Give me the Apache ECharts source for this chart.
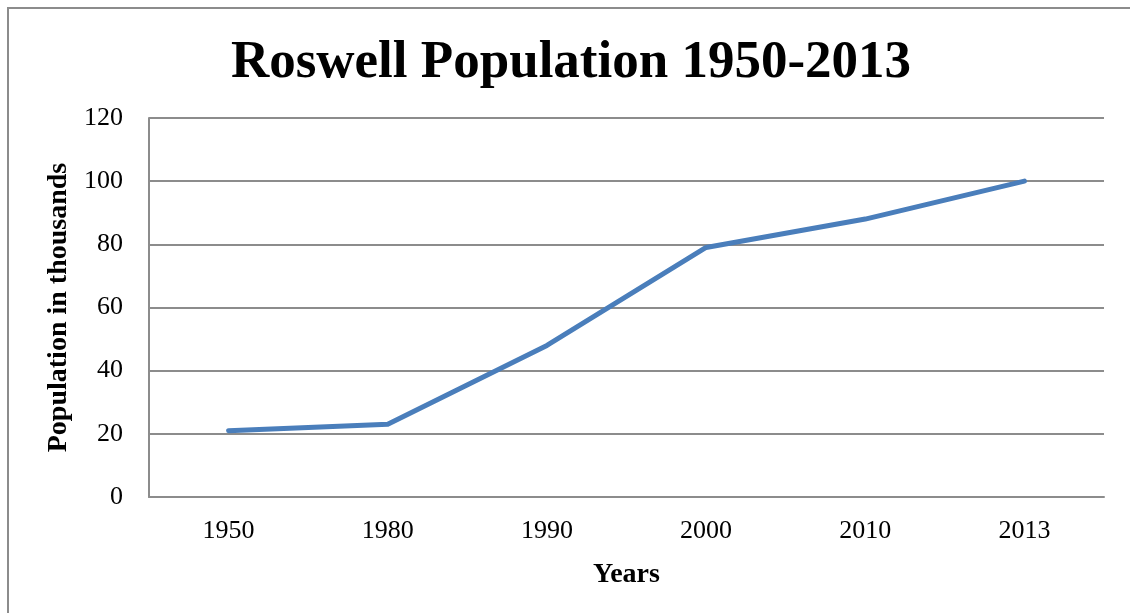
<!DOCTYPE html>
<html>
<head>
<meta charset="utf-8">
<script src="https://cdn.jsdelivr.net/npm/echarts@6/dist/echarts.min.js"></script>
<style>
  html, body { margin: 0; padding: 0; background: #fff; }
  #chart { width: 1130px; height: 613px; }
</style>
</head>
<body>
<div id="chart"></div>
<script>
const years = ["1950", "1980", "1990", "2000", "2010", "2013"];
const population = [21, 23, 48, 79, 88, 100];
const yTicks = [0, 20, 40, 60, 80, 100, 120];

const serif = '"Liberation Serif", "DejaVu Serif", serif';
const chart = echarts.init(document.getElementById("chart"));

chart.setOption({
  animation: false,
  backgroundColor: "#fff",
  // outer chart frame
  graphic: [{
    type: "rect",
    shape: { x: 8, y: 8, width: 1140, height: 620 },
    style: { fill: "none", stroke: "#8c8c8c", lineWidth: 2 },
  }],
  title: {
    text: "Roswell Population 1950-2013",
    left: 566,
    textAlign: "center",
    top: 32,
    textStyle: { fontFamily: serif, fontWeight: "bold", fontSize: 53, color: "#000" },
  },
  grid: { left: 149, right: 26, top: 118, bottom: 116, containLabel: false },
  xAxis: {
    type: "category",
    data: years,
    boundaryGap: true,
    name: "Years",
    nameLocation: "middle",
    nameGap: 64,
    nameTextStyle: { fontFamily: serif, fontWeight: "bold", fontSize: 28, color: "#000" },
    axisLine: { lineStyle: { color: "#8c8c8c", width: 2 } },
    axisTick: { show: false },
    axisLabel: { fontFamily: serif, fontSize: 26, color: "#000", margin: 21 },
  },
  yAxis: {
    type: "value",
    min: yTicks[0],
    max: yTicks[yTicks.length - 1],
    interval: 20,
    name: "Population in thousands",
    nameLocation: "middle",
    nameGap: 74,
    nameTextStyle: { fontFamily: serif, fontWeight: "bold", fontSize: 28, color: "#000" },
    axisLine: { show: true, lineStyle: { color: "#8c8c8c", width: 2 } },
    axisTick: { show: false },
    axisLabel: { fontFamily: serif, fontSize: 26, color: "#000", margin: 26 },
    splitLine: { lineStyle: { color: "#8c8c8c", width: 2 } },
  },
  series: [{
    type: "line",
    data: population,
    symbol: "none",
    lineStyle: { color: "#4a7ebb", width: 5, cap: "round", join: "round" },
  }],
});
</script>
</body>
</html>
